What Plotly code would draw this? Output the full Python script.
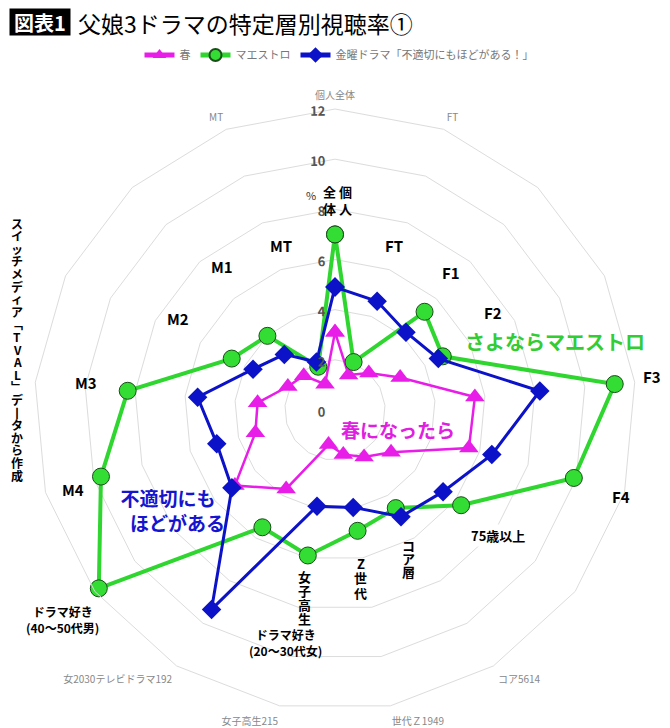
import plotly.graph_objects as go

# categories clockwise from the top
categories = ["個人全体", "FT", "F1", "F2", "F3", "F4", "75歳以上", "コア", "Z世代", "女子高生",
              "ドラマ好き女", "ドラマ好き男", "M4", "M3", "M2", "M1", "MT"]
# outer (gray) tick labels as visible in the source chart
tick_labels = ["個人全体", "FT", "", "", "", "", "", "コア5614", "世代Ｚ1949", "女子高生215",
               "女2030テレビドラマ192", "", "", "", "", "", "MT"]

haru = [3.1, 1.5, 2.0, 2.9, 5.6, 5.55, 2.8, 2.2, 1.8, 1.4, 3.7, 5.0, 3.3, 3.1, 2.1, 1.85, 1.1]
maestro = [7.0, 2.05, 5.3, 4.8, 11.2, 9.9, 6.3, 4.6, 4.9, 5.9, 5.5, 11.8, 9.7, 8.3, 4.6, 4.0, 1.85]
futekisetsu = [4.9, 4.65, 4.2, 4.6, 8.2, 6.5, 5.4, 5.0, 3.95, 3.9, 9.35, 5.15, 4.9, 5.5, 3.65, 3.0, 2.05]

# the page body adds an 8px margin, so the figure is drawn 8px smaller and offset
OFF = 8
W, H = 670 - OFF, 728 - OFF
FONT = "Noto Sans CJK JP"
GRID = "#dcdcdc"


def closed(vals):
    return vals + vals[:1]


fig = go.Figure()
fig.add_trace(go.Scatterpolar(
    r=closed(haru), theta=closed(categories), name="春", mode="lines+markers",
    line=dict(color="#e81ee8", width=2.5),
    marker=dict(symbol="triangle-up", size=17, color="#e81ee8"),
))
fig.add_trace(go.Scatterpolar(
    r=closed(maestro), theta=closed(categories), name="マエストロ", mode="lines+markers",
    line=dict(color="#2fd62f", width=4),
    marker=dict(symbol="circle", size=17, color="#33dd33", line=dict(color="#1a4d1a", width=1)),
))
fig.add_trace(go.Scatterpolar(
    r=closed(futekisetsu), theta=closed(categories), name="金曜ドラマ「不適切にもほどがある！」",
    mode="lines+markers",
    line=dict(color="#0c12c8", width=3),
    marker=dict(symbol="diamond", size=15, color="#0c12c8"),
))


def px(x, y):
    # page pixel position -> paper coordinates
    return (x - OFF) / W, 1 - (y - OFF) / H


def label(text, x, y, size=13, color="black", bold=True, bg=None, xanchor="center", **kw):
    xp, yp = px(x, y)
    fig.add_annotation(
        text=f"<b>{text}</b>" if bold else text, x=xp, y=yp, xref="paper", yref="paper",
        xanchor=xanchor, yanchor="middle",
        showarrow=False, font=dict(family=FONT, size=size, color=color),
        bgcolor=bg, **kw,
    )


def vlabel(chars, x, y0, step, size=13):
    # vertical writing: one character per annotation
    for i, ch in enumerate(chars):
        label(ch, x, y0 + i * step, size=size, borderpad=0)


# title
label("図表1", 40, 22, size=20, color="white", bg="black", width=60, height=26, borderpad=0)
label("父娘3ドラマの特定層別視聴率①", 76, 23, size=23, bold=False, xanchor="left")

# category labels placed inside the chart
label("全 個<br>体 人", 337, 200, size=13)
label("%", 311, 195, size=11, color="#333", bold=False)
label("MT", 281, 246, size=15)
label("FT", 394, 246, size=15)
label("F1", 451, 272, size=15)
label("F2", 493, 312, size=15)
label("F3", 652, 377, size=15)
label("F4", 621, 496, size=15)
label("75歳以上", 498, 535, size=13, bg="white")
vlabel(["コ", "ア", "層"], 408, 545, 13)
vlabel(["Z", "世", "代"], 361, 563, 14.5)
vlabel(["女", "子", "高", "生"], 304, 576, 14.2)
label("ドラマ好き<br>(20～30代女)", 285, 642, size=12)
label("ドラマ好き<br>(40～50代男)", 62, 619, size=12, bg="white")
label("M4", 73, 490, size=15)
label("M3", 86, 382, size=15)
label("M2", 178, 318, size=15)
label("M1", 222, 266, size=15)

# series names
label("さよならマエストロ", 555, 341, size=20, color="#33cc33")
label("春になったら", 398, 429, size=19, color="#e020e0")
label("不適切にも<br>　ほどがある", 168, 510, size=19, color="#1515d0")

# vertical source note
note = ["ス", "イ", "ッ", "チ", "メ", "デ", "ィ", "ア", "﹁", "T", "V", "A", "L", "﹂",
        "デ", "丨", "タ", "か", "ら", "作", "成"]
vlabel(note, 17, 223, 12.6, size=12)

fig.update_layout(
    width=W, height=H,
    margin=dict(l=0, r=0, t=0, b=0),
    paper_bgcolor="white",
    font=dict(family=FONT),
    showlegend=True,
    legend=dict(orientation="h", x=0.5, xanchor="center", y=px(0, 55)[1], yanchor="middle",
                font=dict(size=11, color="#777"), itemsizing="constant"),
    polar=dict(
        domain=dict(x=[(34 - OFF) / W, (636 - OFF) / W],
                    y=[1 - (711 - OFF) / H, 1 - (109 - OFF) / H]),
        gridshape="linear",
        bgcolor="white",
        radialaxis=dict(
            range=[0, 12], dtick=2, angle=90, tickangle=89, side="counterclockwise",
            showline=False, ticks="", gridcolor=GRID, gridwidth=1,
            tickfont=dict(size=13, color="#555", family=FONT, weight="bold"),
        ),
        angularaxis=dict(
            rotation=90, direction="clockwise", categoryorder="array", categoryarray=categories,
            tickmode="array", tickvals=categories, ticktext=tick_labels,
            showgrid=False, showline=True, linecolor=GRID,
            ticks="outside", ticklen=6, tickcolor="rgba(0,0,0,0)",
            tickfont=dict(size=10, color="#888", family=FONT),
        ),
    ),
)

fig.write_html("out.html")
